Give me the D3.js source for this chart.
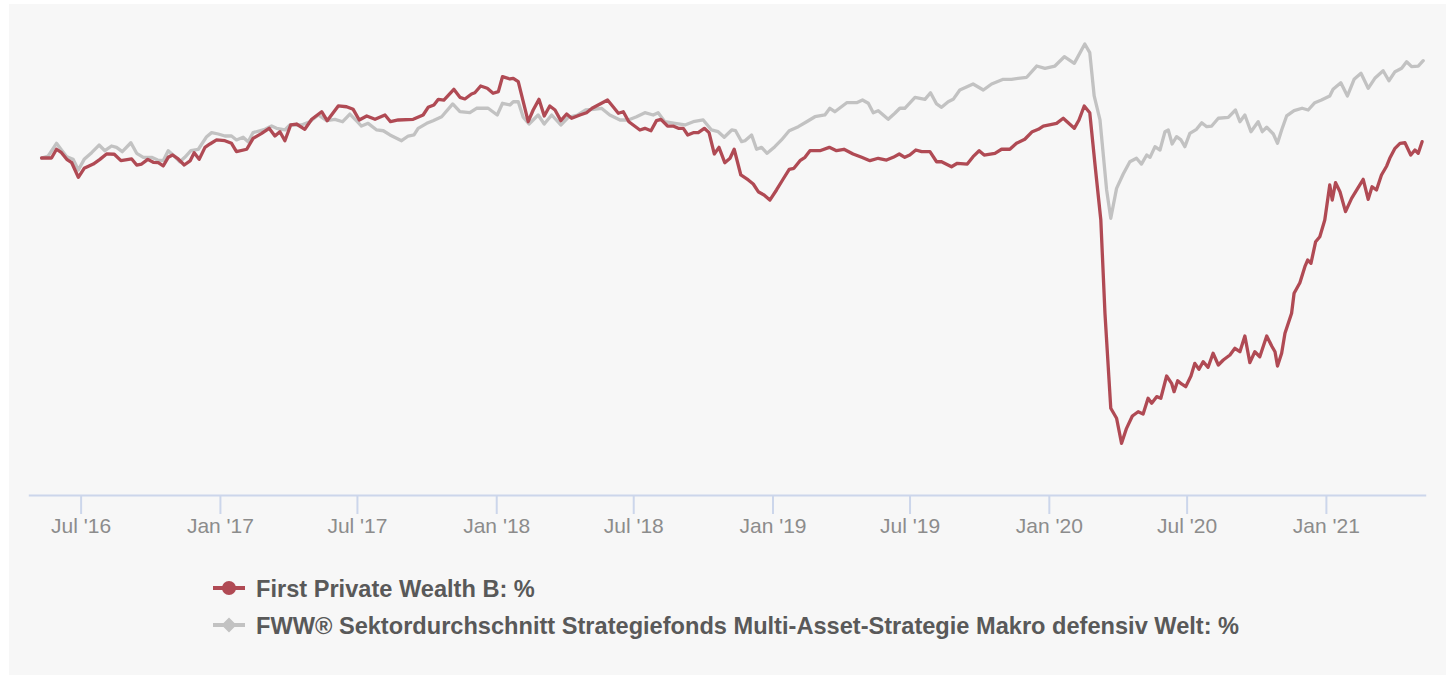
<!DOCTYPE html>
<html><head><meta charset="utf-8">
<script src="https://cdn.jsdelivr.net/npm/d3@7"></script>
<style>
html,body{margin:0;padding:0;background:#fff;}
svg{display:block;font-family:"Liberation Sans", Arial, Helvetica, sans-serif;}
</style></head><body>
<svg id="chart" width="1451" height="679"></svg>
<script>
const seriesNames = ["First Private Wealth B: %", "FWW® Sektordurchschnitt Strategiefonds Multi-Asset-Strategie Makro defensiv Welt: %"];
const seriesColors = ["#b04a54", "#c2c2c2"];
const tickDates = ["2016-07-01","2017-01-01","2017-07-01","2018-01-01","2018-07-01","2019-01-01","2019-07-01","2020-01-01","2020-07-01","2021-01-01"];
const tickLabels = ["Jul '16","Jan '17","Jul '17","Jan '18","Jul '18","Jan '19","Jul '19","Jan '20","Jul '20","Jan '21"];
const xDomainYears = [2016.307, 2021.361];
const yDomain = [-35, 15];

// time in decimal years, value in %
const fundTimes = [2016.355,2016.391,2016.409,2016.427,2016.446,2016.464,2016.488,2016.509,2016.542,2016.566,
2016.590,2016.618,2016.642,2016.681,2016.699,2016.717,2016.739,2016.759,2016.777,2016.795,
2016.813,2016.829,2016.849,2016.871,2016.892,2016.907,2016.925,2016.946,2016.964,2016.988,
2017.018,2017.042,2017.060,2017.097,2017.120,2017.151,2017.178,2017.199,2017.217,2017.235,
2017.256,2017.277,2017.307,2017.332,2017.368,2017.388,2017.428,2017.458,2017.482,2017.504,
2017.531,2017.561,2017.597,2017.617,2017.645,2017.699,2017.735,2017.753,2017.774,2017.790,
2017.810,2017.846,2017.868,2017.886,2017.910,2017.922,2017.943,2017.967,2017.988,2018.007,
2018.022,2018.049,2018.061,2018.079,2018.115,2018.133,2018.154,2018.173,2018.193,2018.212,
2018.233,2018.254,2018.272,2018.302,2018.326,2018.346,2018.402,2018.422,2018.441,2018.459,
2018.479,2018.519,2018.537,2018.559,2018.579,2018.595,2018.619,2018.639,2018.658,2018.676,
2018.692,2018.712,2018.730,2018.752,2018.769,2018.788,2018.805,2018.826,2018.845,2018.860,
2018.884,2018.911,2018.929,2018.947,2018.968,2018.989,2019.013,2019.035,2019.059,2019.076,
2019.098,2019.116,2019.134,2019.170,2019.204,2019.230,2019.257,2019.290,2019.321,2019.351,
2019.381,2019.411,2019.435,2019.457,2019.477,2019.495,2019.517,2019.538,2019.568,2019.592,
2019.610,2019.646,2019.667,2019.703,2019.724,2019.746,2019.764,2019.803,2019.827,2019.857,
2019.881,2019.911,2019.938,2019.960,2019.978,2020.026,2020.050,2020.090,2020.107,2020.126,
2020.146,2020.167,2020.186,2020.201,2020.222,2020.243,2020.261,2020.279,2020.300,2020.321,
2020.339,2020.357,2020.370,2020.388,2020.403,2020.424,2020.442,2020.451,2020.464,2020.478,
2020.493,2020.512,2020.526,2020.541,2020.556,2020.574,2020.592,2020.611,2020.629,2020.653,
2020.671,2020.689,2020.707,2020.725,2020.743,2020.761,2020.786,2020.804,2020.816,2020.825,
2020.840,2020.852,2020.876,2020.885,2020.906,2020.924,2020.934,2020.946,2020.963,2020.978,
2020.996,2021.014,2021.023,2021.035,2021.051,2021.071,2021.093,2021.115,2021.135,2021.153,
2021.167,2021.183,2021.201,2021.220,2021.231,2021.250,2021.268,2021.286,2021.307,2021.322,
2021.334,2021.348];
const fundValues = [0,0,0.91,0.55,-0.14,-0.49,-2.01,-1.07,-0.63,-0.14,
0.42,0.39,-0.28,-0.10,-0.73,-0.63,-0.14,-0.45,-0.49,-0.83,
0.07,0.31,-0.10,-0.73,-0.31,0.55,-0.14,1.11,1.46,1.88,
1.80,1.53,0.66,0.91,2.05,2.57,3.09,2.29,2.74,1.80,
3.44,3.54,2.99,4.03,4.82,3.89,5.42,5.34,5.07,3.96,
4.38,4.03,4.48,3.78,3.96,4.03,4.48,5.28,5.52,6.11,
6.04,7.16,6.32,6.15,6.67,6.80,7.50,7.26,6.74,6.91,
8.47,8.23,8.30,7.95,3.78,5.00,6.11,4.38,5.42,5.00,
3.89,4.58,4.14,4.48,4.72,5.18,6.04,5.34,4.66,4.82,
3.78,2.92,3.09,2.84,3.89,4.03,3.33,3.33,3.09,3.09,
2.40,2.64,2.64,3.09,2.64,0.42,1.11,-0.49,-0.03,0.91,
-1.77,-2.29,-2.71,-3.51,-3.85,-4.38,-3.33,-2.29,-1.18,-1.07,
-0.28,0.07,0.76,0.76,1.11,0.76,0.91,0.42,0.07,-0.28,
-0.03,-0.21,0.07,0.42,0.07,0.31,0.83,0.66,0.66,-0.39,
-0.39,-0.91,-0.55,-0.63,0.14,0.76,0.31,0.49,0.91,0.91,
1.53,1.95,2.74,2.99,3.33,3.61,4.14,3.09,3.96,5.42,
4.72,-1.25,-6.46,-16.18,-26.07,-27.11,-29.72,-28.16,-26.88,-26.43,
-26.67,-25.03,-25.55,-24.86,-25.03,-22.71,-23.47,-24.34,-23.20,-23.54,
-23.82,-22.71,-21.39,-22.01,-21.22,-21.80,-20.34,-21.56,-21.04,-20.52,
-19.82,-20.18,-18.54,-21.32,-20.18,-20.70,-18.54,-19.58,-20.18,-21.67,
-20.34,-18.26,-16.18,-14.09,-12.99,-11.32,-10.63,-10.97,-8.72,-8.20,
-6.46,-2.81,-4.38,-2.57,-3.51,-5.59,-4.20,-3.16,-2.22,-4.30,
-2.99,-3.33,-1.77,-0.83,-0.03,1.01,1.53,1.59,0.31,0.83,
0.49,1.70];

const sectorTimes = [2016.355,2016.379,2016.409,2016.427,2016.446,2016.469,2016.488,2016.509,2016.536,2016.563,
2016.584,2016.608,2016.626,2016.647,2016.678,2016.699,2016.723,2016.753,2016.775,2016.795,
2016.813,2016.835,2016.855,2016.873,2016.895,2016.922,2016.952,2016.970,2016.994,2017.018,
2017.042,2017.060,2017.084,2017.102,2017.120,2017.163,2017.187,2017.205,2017.235,2017.253,
2017.295,2017.325,2017.356,2017.386,2017.416,2017.444,2017.470,2017.497,2017.512,2017.536,
2017.567,2017.591,2017.615,2017.657,2017.681,2017.702,2017.717,2017.748,2017.771,2017.802,
2017.842,2017.868,2017.904,2017.928,2017.970,2018.003,2018.022,2018.049,2018.061,2018.079,
2018.097,2018.118,2018.151,2018.173,2018.200,2018.233,2018.260,2018.294,2018.323,2018.350,
2018.380,2018.410,2018.447,2018.477,2018.507,2018.537,2018.567,2018.585,2018.609,2018.646,
2018.682,2018.712,2018.748,2018.778,2018.802,2018.824,2018.851,2018.865,2018.887,2018.899,
2018.923,2018.941,2018.959,2018.979,2019.007,2019.031,2019.059,2019.092,2019.122,2019.152,
2019.188,2019.206,2019.224,2019.267,2019.303,2019.324,2019.345,2019.363,2019.381,2019.417,
2019.441,2019.459,2019.477,2019.514,2019.550,2019.570,2019.592,2019.610,2019.634,2019.652,
2019.676,2019.698,2019.724,2019.761,2019.791,2019.833,2019.863,2019.918,2019.954,2019.984,
2020.020,2020.054,2020.090,2020.128,2020.146,2020.162,2020.183,2020.207,2020.222,2020.243,
2020.267,2020.291,2020.315,2020.333,2020.352,2020.364,2020.382,2020.400,2020.418,2020.430,
2020.444,2020.460,2020.476,2020.490,2020.508,2020.532,2020.551,2020.569,2020.587,2020.611,
2020.647,2020.673,2020.689,2020.707,2020.729,2020.755,2020.770,2020.786,2020.810,2020.825,
2020.840,2020.858,2020.885,2020.914,2020.936,2020.960,2020.984,2021.014,2021.026,2021.054,
2021.078,2021.102,2021.127,2021.153,2021.177,2021.207,2021.228,2021.250,2021.274,2021.292,
2021.310,2021.334,2021.352];
const sectorValues = [0,0.21,1.53,0.83,0.14,-0.14,-1.25,-0.14,0.55,1.35,
0.76,1.25,1.11,0.66,1.59,0.49,0.07,0.07,-0.21,-0.28,
0.76,0.21,-0.39,0.07,0.76,0.91,2.22,2.64,2.50,2.29,
2.29,1.88,2.16,1.70,2.64,2.99,3.33,3.09,2.92,3.44,
3.44,3.78,4.48,3.89,4.03,3.78,4.58,3.78,3.33,3.61,
2.92,2.84,2.40,1.80,2.29,2.40,3.09,3.61,3.89,4.30,
5.63,4.82,4.72,5.18,5.18,4.48,5.70,5.52,5.86,5.86,
4.24,3.54,4.48,3.54,4.48,3.44,4.24,4.48,5.00,5.07,
5.18,4.48,3.96,3.96,4.30,4.72,4.48,4.72,3.78,3.61,
3.44,3.78,3.96,2.92,2.74,2.16,2.92,2.84,1.70,1.80,
2.40,0.91,1.11,0.49,1.18,1.88,2.84,3.26,3.78,4.30,
4.48,5.18,4.82,5.76,5.76,6.04,5.70,4.72,4.93,4.03,
4.66,5.18,5.18,6.32,6.11,6.80,5.63,5.28,5.86,6.11,
7.08,7.36,7.71,7.08,7.71,8.20,8.20,8.41,9.58,9.34,
9.58,10.55,9.86,11.88,10.97,6.46,3.96,-3.33,-6.28,-3.16,
-1.67,-0.39,-0.03,-0.63,0.31,0.07,1.18,0.83,2.74,2.92,
1.46,2.22,1.88,1.18,2.57,2.99,3.68,3.26,3.33,4.14,
4.24,5.00,3.78,4.48,2.74,3.78,2.74,3.20,2.50,1.53,
2.92,4.38,4.93,5.18,5.00,5.76,6.04,6.46,7.16,7.84,
6.46,8.20,8.82,7.26,8.30,9.09,8.05,8.99,9.34,10.03,
9.51,9.58,10.14];

const yearToDate = t => new Date(Date.UTC(2017,0,1) + (t - 2017) * 365.25 * 864e5);
const parse = d3.utcParse("%Y-%m-%d");

const svg = d3.select("#chart");
svg.append("rect").attr("x",0).attr("y",0).attr("width",1451).attr("height",679).attr("fill","#ffffff");
svg.append("rect").attr("x",9).attr("y",4).attr("width",1437).attr("height",671).attr("fill","#f7f7f7");

const x = d3.scaleUtc().domain(xDomainYears.map(yearToDate)).range([28.3, 1425.7]);
const y = d3.scaleLinear().domain(yDomain).range([494, 14]);

const axisY = 495;
const ticks = tickDates.map(parse);
const axis = d3.axisBottom(x).tickValues(ticks)
  .tickFormat((d,i) => tickLabels[i]).tickSize(19).tickSizeOuter(0).tickPadding(4);
const gx = svg.append("g").attr("transform", `translate(0,${axisY})`).call(axis);
gx.select(".domain").attr("stroke","#ccd6eb").attr("stroke-width",2);
gx.selectAll(".tick line").attr("stroke","#ccd6eb").attr("stroke-width",2);
gx.selectAll(".tick text").attr("fill","#8c8c8c").style("font-size","21px")
  .style("font-family",'"Liberation Sans", Arial, Helvetica, sans-serif');

const line = d3.line().x(d => x(d.date)).y(d => y(d.v)).curve(d3.curveLinear);
const fund = fundTimes.map((t,i) => ({date: yearToDate(t), v: fundValues[i]}));
const sector = sectorTimes.map((t,i) => ({date: yearToDate(t), v: sectorValues[i]}));

svg.append("path").datum(sector).attr("d", line).attr("fill","none")
  .attr("stroke", seriesColors[1]).attr("stroke-width",3.3).attr("stroke-linejoin","round").attr("stroke-linecap","round");
svg.append("path").datum(fund).attr("d", line).attr("fill","none")
  .attr("stroke", seriesColors[0]).attr("stroke-width",3.3).attr("stroke-linejoin","round").attr("stroke-linecap","round");

// legend
const legend = svg.append("g");
const rows = [{y:588, name:seriesNames[0], color:seriesColors[0], sym:"circle"},
              {y:625, name:seriesNames[1], color:seriesColors[1], sym:"diamond"}];
rows.forEach(r => {
  legend.append("line").attr("x1",213).attr("x2",245).attr("y1",r.y).attr("y2",r.y)
    .attr("stroke", r.color).attr("stroke-width",4);
  if (r.sym === "circle") {
    legend.append("circle").attr("cx",229).attr("cy",r.y).attr("r",7).attr("fill",r.color);
  } else {
    legend.append("path").attr("d", `M229,${r.y-7.5}L236.5,${r.y}L229,${r.y+7.5}L221.5,${r.y}Z`).attr("fill", r.color);
  }
  legend.append("text").attr("x",256).attr("y",r.y+8.5).text(r.name)
    .attr("fill","#595959").style("font-size","23.6px").style("font-weight","bold");
});
</script>
</body></html>
